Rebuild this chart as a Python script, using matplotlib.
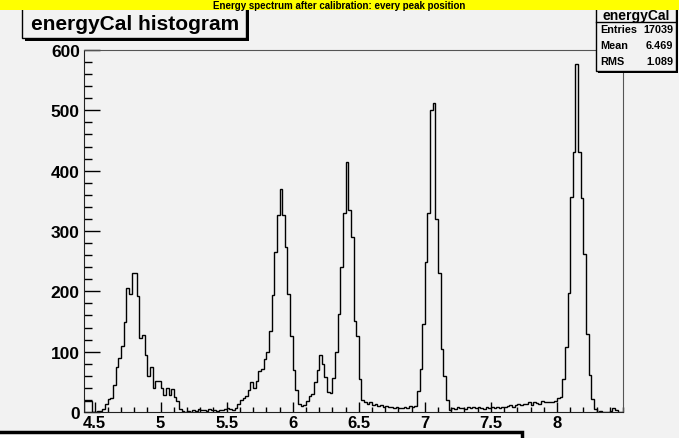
import numpy as np
import matplotlib
matplotlib.use("Agg")
import matplotlib.pyplot as plt
from matplotlib.patches import Rectangle

# histogram: 204 bins of 0.02 between 4.42 and 8.50
x_lo, x_hi = 4.42, 8.50
counts = [
    18, 18, 18, 0, 0, 1, 2, 5, 14, 22,
    23, 44, 75, 90, 110, 150, 205, 196, 230, 230,
    193, 122, 128, 95, 60, 74, 40, 52, 52, 39,
    29, 40, 28, 38, 25, 19, 5, 2, 0, 1,
    0, 3, 2, 5, 3, 4, 2, 5, 3, 4,
    2, 3, 3, 5, 6, 5, 4, 6, 14, 20,
    24, 27, 36, 50, 40, 52, 68, 71, 88, 99,
    135, 194, 265, 326, 370, 327, 273, 196, 126, 70,
    36, 13, 10, 12, 18, 26, 30, 50, 70, 95,
    80, 58, 33, 32, 57, 99, 163, 240, 330, 415,
    334, 290, 151, 126, 55, 20, 17, 14, 16, 12,
    13, 10, 12, 9, 10, 8, 8, 7, 9, 7,
    6, 8, 7, 10, 9, 10, 34, 71, 146, 248,
    330, 500, 512, 320, 230, 104, 60, 20, 3, 6,
    5, 8, 6, 7, 5, 8, 7, 9, 6, 8,
    7, 5, 8, 7, 9, 6, 8, 7, 9, 8,
    10, 11, 9, 12, 13, 11, 14, 13, 16, 12,
    17, 15, 14, 18, 16, 17, 16, 17, 18, 24,
    25, 55, 107, 198, 356, 431, 577, 431, 354, 262,
    129, 62, 22, 5, 0, 1, 0, 0, 0, 2,
    6, 4, 0, 0,
]
edges = np.linspace(x_lo, x_hi, len(counts) + 1)

x_major = [4.5, 5, 5.5, 6, 6.5, 7, 7.5, 8]
x_labels = ["4.5", "5", "5.5", "6", "6.5", "7", "7.5", "8"]
y_major = [0, 100, 200, 300, 400, 500, 600]

hist_name = "energyCal"
title = "energyCal histogram"
stats = [("Entries", "17039"), ("Mean", "6.469"), ("RMS", "1.089")]
banner = "Energy spectrum after calibration: every peak position"

W, H = 679, 439
bg = "#f2f2f2"
plt.rcParams["font.family"] = ["Liberation Sans", "DejaVu Sans"]
plt.rcParams["font.weight"] = "bold"


def fx(px):
    return px / W


def fy(py):
    return 1 - py / H


fig = plt.figure(figsize=(W / 100, H / 100), dpi=100, facecolor=bg)
ax = fig.add_axes([fx(84), fy(413), fx(623) - fx(84), fy(51) - fy(413)], facecolor=bg)

ax.stairs(counts, edges, color="black", lw=1.0, baseline=0)
ax.set_xlim(x_lo, x_hi)
ax.set_ylim(0, 600)

ax.set_xticks(x_major)
ax.set_xticklabels(x_labels)
ax.set_xticks(np.arange(4.5, 8.51, 0.1), minor=True)
ax.set_yticks(y_major)
ax.set_yticks(np.arange(0, 601, 20), minor=True)
ax.tick_params(axis="x", which="major", direction="in", length=7, width=1,
               labelsize=12, pad=2, colors="black")
ax.tick_params(axis="x", which="minor", direction="in", length=3.5, width=1)
ax.tick_params(axis="y", which="major", direction="in", length=11.5, width=1,
               labelsize=12.5, pad=3)
ax.tick_params(axis="y", which="minor", direction="in", length=6, width=1)
for s in ["top", "right"]:
    ax.spines[s].set_color("#555555")
for s in ["left", "bottom"]:
    ax.spines[s].set_color("#222222")

# title box with shadow
fig.patches.append(Rectangle((fx(25), fy(42)), fx(224), fy(4) - fy(38),
                             transform=fig.transFigure, facecolor="black", edgecolor="none"))
fig.patches.append(Rectangle((fx(22), fy(39)), fx(224), fy(4) - fy(38),
                             transform=fig.transFigure, facecolor=bg, edgecolor="black", lw=1))
fig.text(fx(135), fy(25), title, fontsize=15, ha="center", va="center")

# stats box
fig.patches.append(Rectangle((fx(598), fy(74)), fx(80), fy(4) - fy(72),
                             transform=fig.transFigure, facecolor="black", edgecolor="none"))
fig.patches.append(Rectangle((fx(596), fy(72)), fx(80), fy(4) - fy(72),
                             transform=fig.transFigure, facecolor=bg, edgecolor="black", lw=1))
fig.add_artist(plt.Line2D([fx(596), fx(676)], [fy(22.5), fy(22.5)], color="black", lw=1))
fig.text(fx(636), fy(16), hist_name, fontsize=10, ha="center", va="center")
for i, (k, v) in enumerate(stats):
    yy = fy(30 + i * 16)
    fig.text(fx(600), yy, k, fontsize=7.8, ha="left", va="center")
    fig.text(fx(673), yy, v, fontsize=7.8, ha="right", va="center")

# white box at the bottom
fig.patches.append(Rectangle((fx(-5), fy(447)), fx(527), fy(433) - fy(447),
                             transform=fig.transFigure, facecolor="white",
                             edgecolor="black", lw=2.5))

# yellow banner along the top edge
bax = fig.add_axes([0, fy(11), 1, fy(0) - fy(11)], facecolor="#ffff00", zorder=10)
bax.set_xticks([])
bax.set_yticks([])
for s in bax.spines.values():
    s.set_visible(False)
bax.text(0.5, 0.45, banner, fontsize=7, ha="center", va="center",
         transform=bax.transAxes)

fig.savefig("out.png", dpi=100, facecolor=bg)
